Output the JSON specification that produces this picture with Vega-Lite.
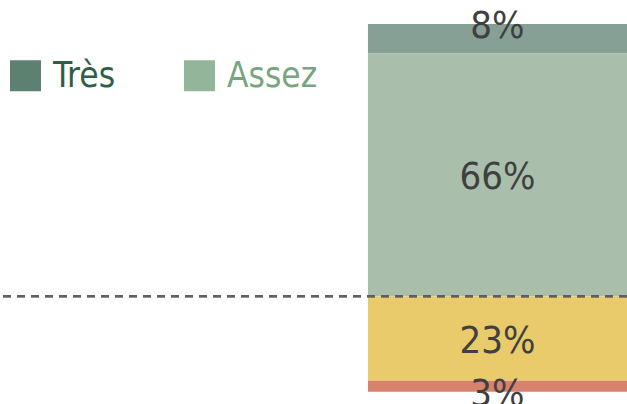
{
  "$schema": "https://vega.github.io/schema/vega-lite/v6.json",
  "width": 627,
  "height": 404,
  "autosize": "none",
  "padding": 0,
  "background": "white",
  "config": {"view": {"stroke": null}},
  "data": {"values": [
    {"groupe": "Total", "categorie": "Très", "val": 8, "rang": 2},
    {"groupe": "Total", "categorie": "Assez", "val": 66, "rang": 1},
    {"groupe": "Total", "categorie": "Plutôt pas", "val": -23, "rang": 1},
    {"groupe": "Total", "categorie": "Pas du tout", "val": -3, "rang": 2}
  ]},
  "transform": [
    {"stack": "val", "groupby": ["groupe"], "sort": [{"field": "rang", "order": "ascending"}], "as": ["y0", "y1"]},
    {"calculate": "abs(datum.val) < 10 ? datum.y1 : (datum.y0 + datum.y1) / 2", "as": "ypos"},
    {"calculate": "abs(datum.val) + '%'", "as": "etiquette"}
  ],
  "layer": [
    {
      "mark": {"type": "bar"},
      "encoding": {
        "x": {"field": "groupe", "type": "nominal", "scale": {"domain": ["Légende", "Total"], "paddingInner": 0.296, "paddingOuter": 0}, "axis": null},
        "y": {"field": "y0", "type": "quantitative", "scale": {"domain": [-29.3, 80.5], "nice": false, "zero": false}, "axis": null},
        "y2": {"field": "y1"},
        "color": {
          "field": "categorie",
          "type": "nominal",
          "scale": {"domain": ["Très", "Assez", "Plutôt pas", "Pas du tout"], "range": ["#87a096", "#a9bfac", "#e9cb6b", "#d6826c"]},
          "legend": null
        }
      }
    },
    {
      "transform": [{"filter": "datum.val > 0"}],
      "mark": {"type": "point", "filled": true, "shape": "square", "opacity": 0},
      "encoding": {
        "x": {"field": "groupe", "type": "nominal"},
        "y": {"field": "ypos", "type": "quantitative"},
        "fill": {
          "field": "categorie",
          "type": "nominal",
          "scale": {"domain": ["Très", "Assez"], "range": ["#5c8170", "#93b69a"]},
          "legend": {
            "values": ["Très", "Assez"],
            "orient": "none",
            "legendX": 8,
            "legendY": 58,
            "direction": "horizontal",
            "title": null,
            "padding": 0,
            "symbolType": "square",
            "symbolSize": 961,
            "symbolStrokeWidth": 0,
            "symbolOpacity": 1,
            "labelFont": "DejaVu Sans Condensed",
            "labelFontSize": 35,
            "labelOffset": 10,
            "labelLimit": 300,
            "columnPadding": 66,
            "encode": {
              "labels": {"update": {"fill": {"signal": "datum.value === 'Très' ? '#2f5e48' : '#78a57f'"}}}
            }
          }
        }
      }
    },
    {
      "mark": {"type": "rule", "color": "#5f5f5f", "strokeWidth": 2, "strokeDash": [8, 6]},
      "encoding": {"y": {"datum": 0, "type": "quantitative"}}
    },
    {
      "mark": {"type": "text", "font": "DejaVu Sans Condensed", "fontSize": 38, "color": "#404040", "baseline": "middle", "align": "center", "dy": 3},
      "encoding": {
        "x": {"field": "groupe", "type": "nominal"},
        "y": {"field": "ypos", "type": "quantitative"},
        "text": {"field": "etiquette"}
      }
    }
  ]
}
